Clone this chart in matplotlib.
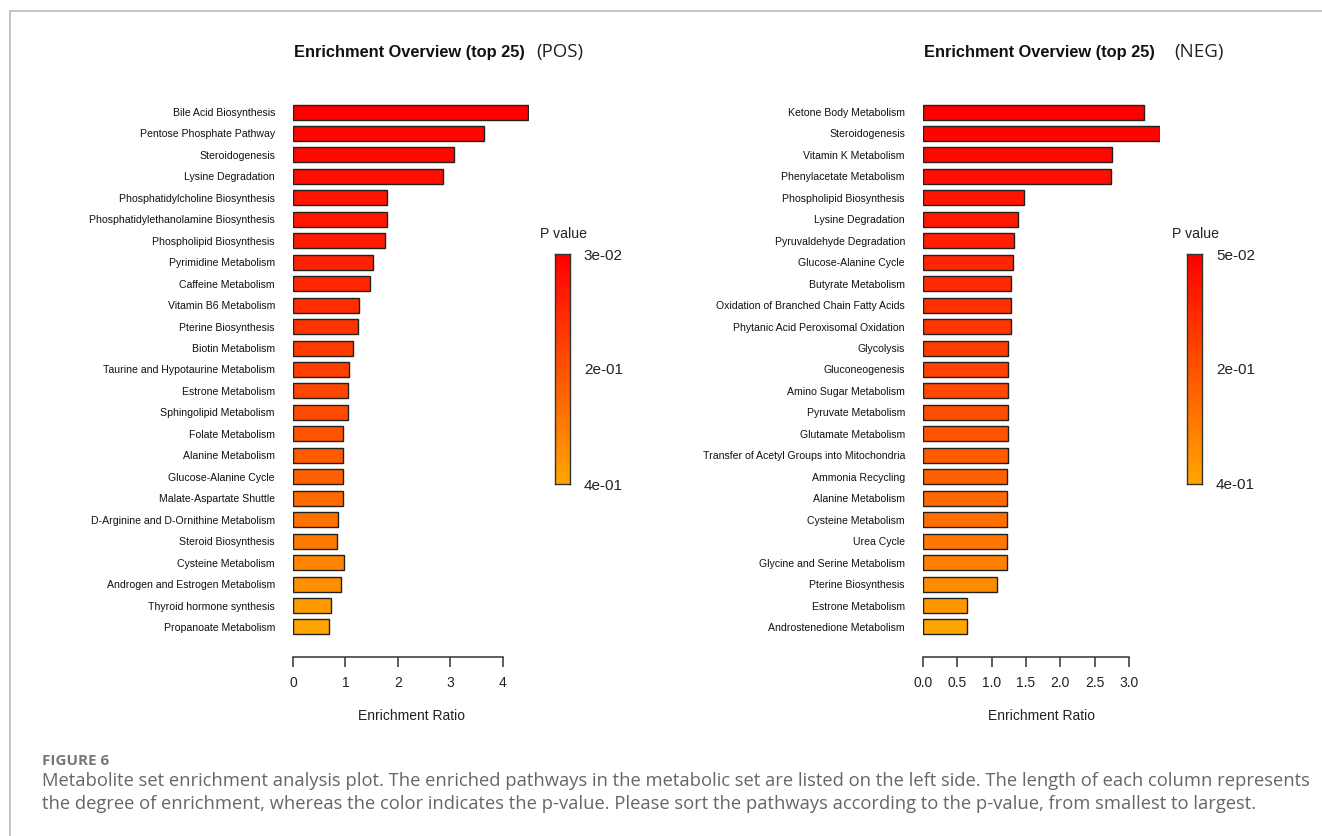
#!/usr/bin/env python3
"""Two-panel metabolite set enrichment overview (POS / NEG), top 25 pathways."""

import numpy as np
import matplotlib
matplotlib.use("Agg")
import matplotlib.pyplot as plt
from matplotlib.colors import LinearSegmentedColormap, Normalize
from matplotlib.lines import Line2D

plt.rcParams["font.family"] = ["Liberation Sans", "DejaVu Sans"]

# ---- data ---------------------------------------------------------------
pos_names = [
    "Bile Acid Biosynthesis", "Pentose Phosphate Pathway", "Steroidogenesis",
    "Lysine Degradation", "Phosphatidylcholine Biosynthesis",
    "Phosphatidylethanolamine Biosynthesis", "Phospholipid Biosynthesis",
    "Pyrimidine Metabolism", "Caffeine Metabolism", "Vitamin B6 Metabolism",
    "Pterine Biosynthesis", "Biotin Metabolism",
    "Taurine and Hypotaurine Metabolism", "Estrone Metabolism",
    "Sphingolipid Metabolism", "Folate Metabolism", "Alanine Metabolism",
    "Glucose-Alanine Cycle", "Malate-Aspartate Shuttle",
    "D-Arginine and D-Ornithine Metabolism", "Steroid Biosynthesis",
    "Cysteine Metabolism", "Androgen and Estrogen Metabolism",
    "Thyroid hormone synthesis", "Propanoate Metabolism",
]
pos_ratio = [4.49, 3.65, 3.07, 2.86, 1.80, 1.80, 1.75, 1.53, 1.46, 1.25,
             1.24, 1.15, 1.07, 1.05, 1.04, 0.95, 0.95, 0.95, 0.95, 0.86,
             0.84, 0.97, 0.92, 0.72, 0.69]
pos_p = [0.030, 0.040, 0.050, 0.062, 0.075, 0.082, 0.090, 0.105, 0.118, 0.132,
         0.145, 0.160, 0.172, 0.185, 0.196, 0.215, 0.232, 0.248, 0.265, 0.285,
         0.305, 0.325, 0.348, 0.375, 0.400]

neg_names = [
    "Ketone Body Metabolism", "Steroidogenesis", "Vitamin K Metabolism",
    "Phenylacetate Metabolism", "Phospholipid Biosynthesis",
    "Lysine Degradation", "Pyruvaldehyde Degradation", "Glucose-Alanine Cycle",
    "Butyrate Metabolism", "Oxidation of Branched Chain Fatty Acids",
    "Phytanic Acid Peroxisomal Oxidation", "Glycolysis", "Gluconeogenesis",
    "Amino Sugar Metabolism", "Pyruvate Metabolism", "Glutamate Metabolism",
    "Transfer of Acetyl Groups into Mitochondria", "Ammonia Recycling",
    "Alanine Metabolism", "Cysteine Metabolism", "Urea Cycle",
    "Glycine and Serine Metabolism", "Pterine Biosynthesis",
    "Estrone Metabolism", "Androstenedione Metabolism",
]
neg_ratio = [3.21, 3.45, 2.75, 2.74, 1.47, 1.38, 1.32, 1.31, 1.28, 1.28,
             1.28, 1.24, 1.24, 1.24, 1.24, 1.235, 1.235, 1.23, 1.23, 1.23,
             1.23, 1.23, 1.07, 0.64, 0.64]
neg_p = [0.050, 0.058, 0.068, 0.078, 0.090, 0.102, 0.115, 0.128, 0.140, 0.152,
         0.165, 0.178, 0.190, 0.202, 0.215, 0.228, 0.242, 0.256, 0.270, 0.286,
         0.302, 0.320, 0.345, 0.372, 0.400]

pos_cbar_ticks = [0.03, 0.215, 0.40]
pos_cbar_labels = ["3e-02", "2e-01", "4e-01"]
neg_cbar_ticks = [0.05, 0.225, 0.40]
neg_cbar_labels = ["5e-02", "2e-01", "4e-01"]

caption_head = "FIGURE 6"
caption_lines = [
    "Metabolite set enrichment analysis plot. The enriched pathways in the "
    "metabolic set are listed on the left side. The length of each column represents",
    "the degree of enrichment, whereas the color indicates the p-value. Please "
    "sort the pathways according to the p-value, from smallest to largest.",
]

W, H = 1322, 836
cmap = LinearSegmentedColormap.from_list("ro", ["#FF0000", "#FFA500"])

fig = plt.figure(figsize=(W / 100, H / 100), dpi=100)


def fx(px):
    return px / W


def fy(py):
    return 1 - py / H


def panel(left_px, xmax, axis_max, ticks, tick_labels, names, ratio, pvals,
          tag, tag_x, cbar_left, cticks, clabels):
    n = len(names)
    ax = fig.add_axes([fx(left_px), fy(657), fx(xmax[1]), (657 - 100) / H])
    ypos = np.arange(n)[::-1]
    norm = Normalize(min(pvals), max(pvals))
    ax.barh(ypos, ratio, height=0.7, color=cmap(norm(np.array(pvals))),
            edgecolor="#222222", linewidth=1.0)
    ax.set_xlim(0, xmax[0])
    ax.set_ylim(-1.4, n - 1 + 0.56)
    ax.set_yticks(ypos)
    ax.set_yticklabels(names, fontsize=7.6, color="#111111")
    ax.tick_params(axis="y", length=0, pad=13)
    for s in ("top", "right", "left"):
        ax.spines[s].set_visible(False)
    ax.spines["bottom"].set_bounds(0, axis_max)
    ax.spines["bottom"].set_color("#333333")
    ax.spines["bottom"].set_linewidth(1.1)
    ax.set_xticks(ticks)
    ax.set_xticklabels(tick_labels, fontsize=10, color="#222222")
    ax.tick_params(axis="x", length=7, width=1.1, color="#333333", pad=7)
    ax.set_xlabel("Enrichment Ratio", fontsize=10, labelpad=13, color="#222222")
    ax.patch.set_visible(False)

    mid = left_px + W * fx(xmax[1]) / 2
    fig.text(fx(mid - 2), fy(52), "Enrichment Overview (top 25)", ha="center",
             va="center", fontsize=11.8, fontweight="bold", color="#111111")
    fig.text(fx(tag_x), fy(52), tag, ha="left", va="center", fontsize=13.5,
             family="Open Sans", color="#222222")

    # colour key
    cax = fig.add_axes([fx(cbar_left), fy(484), fx(15), 230 / H])
    grad = np.linspace(min(pvals), max(pvals), 60).reshape(-1, 1)
    cax.imshow(grad, aspect="auto", cmap=cmap, norm=norm, origin="upper",
               extent=[0, 1, max(pvals), min(pvals)])
    cax.set_ylim(max(pvals), min(pvals))
    cax.set_xticks([])
    cax.yaxis.tick_right()
    cax.set_yticks(cticks)
    cax.set_yticklabels(clabels, fontsize=11, color="#222222")
    cax.tick_params(axis="y", length=0, pad=10)
    for s in cax.spines.values():
        s.set_color("#333333")
        s.set_linewidth(1.0)
    fig.text(fx(cbar_left + 8), fy(234), "P value", ha="center", va="center",
             fontsize=10.2, color="#222222")


panel(293, (4.5, 236), 4, [0, 1, 2, 3, 4], ["0", "1", "2", "3", "4"],
      pos_names, pos_ratio, pos_p, "(POS)", 536, 555,
      pos_cbar_ticks, pos_cbar_labels)
panel(923, (3.45, 237), 3.0, [0, 0.5, 1, 1.5, 2, 2.5, 3],
      ["0.0", "0.5", "1.0", "1.5", "2.0", "2.5", "3.0"],
      neg_names, neg_ratio, neg_p, "(NEG)", 1174, 1187,
      neg_cbar_ticks, neg_cbar_labels)

# frame lines of the page
fig.add_artist(Line2D([fx(10), fx(10)], [fy(11), 0], color="#BBBBBB", lw=1.2))
fig.add_artist(Line2D([fx(10), 1], [fy(11), fy(11)], color="#BBBBBB", lw=1.2))

# caption
fig.text(fx(42), fy(761), caption_head, ha="left", va="center", fontsize=11,
         fontweight="bold", family="Open Sans", color="#777777")
for i, line in enumerate(caption_lines):
    fig.text(fx(42), fy(781 + 23 * i), line, ha="left", va="center",
             fontsize=13.2, family="Open Sans", color="#666666")

fig.savefig("out.png", dpi=100)
